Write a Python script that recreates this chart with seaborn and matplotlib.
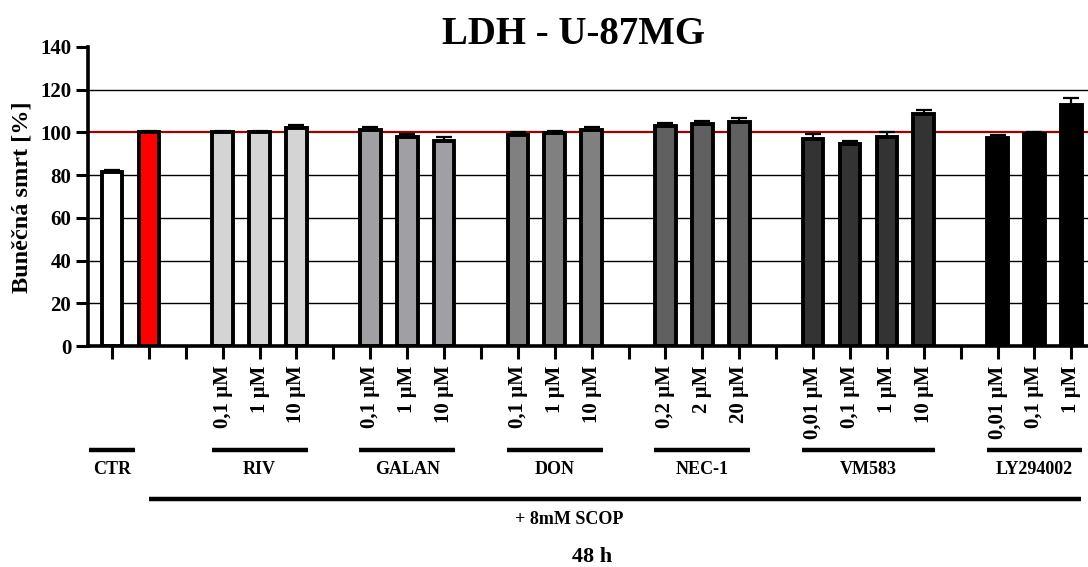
import numpy as np
import pandas as pd
import matplotlib
matplotlib.use("Agg")
import matplotlib.pyplot as plt
import matplotlib.transforms as mtransforms
import seaborn as sns

# ------------------------------------------
# data
# ------------------------------------------
groups = ["CTR", "SCOP", "RIV", "GALAN", "DON", "NEC-1", "VM583", "LY294002"]

ctr_conc = [""]
ctr_val = [81.5]
ctr_err = [1.0]

scop_conc = [""]
scop_val = [100.0]
scop_err = [0.8]

riv_conc = ["0,1 µM", "1 µM", "10 µM"]
riv_val = [100.0, 100.0, 102.0]
riv_err = [0.8, 0.6, 1.5]

galan_conc = ["0,1 µM", "1 µM", "10 µM"]
galan_val = [101.2, 97.8, 95.8]
galan_err = [1.5, 1.5, 2.0]

don_conc = ["0,1 µM", "1 µM", "10 µM"]
don_val = [98.8, 99.5, 101.0]
don_err = [1.5, 1.2, 1.5]

nec_conc = ["0,2 µM", "2 µM", "20 µM"]
nec_val = [103.0, 104.0, 105.0]
nec_err = [1.3, 1.5, 1.6]

vm_conc = ["0,01 µM", "0,1 µM", "1 µM", "10 µM"]
vm_val = [97.0, 94.8, 98.0, 108.5]
vm_err = [2.3, 1.2, 2.0, 2.0]

ly_conc = ["0,01 µM", "0,1 µM", "1 µM"]
ly_val = [97.3, 99.3, 113.0]
ly_err = [1.6, 1.0, 3.2]

yticks = [0, 20, 40, 60, 80, 100, 120, 140]

# ------------------------------------------
# layout / styling
# ------------------------------------------
colors = {"CTR": "#ffffff", "SCOP": "#ff0000", "RIV": "#d4d4d4", "GALAN": "#a0a0a4",
          "DON": "#808080", "NEC-1": "#606060", "VM583": "#333333", "LY294002": "#000000"}
gap_before = [0, 0, 1, 1, 1, 1, 1, 1]

concs = [ctr_conc, scop_conc, riv_conc, galan_conc, don_conc, nec_conc, vm_conc, ly_conc]
vals = [ctr_val, scop_val, riv_val, galan_val, don_val, nec_val, vm_val, ly_val]
errs = [ctr_err, scop_err, riv_err, galan_err, don_err, nec_err, vm_err, ly_err]

rows = []
group_pos = {}
p = -1
for g, c, v, e, gap in zip(groups, concs, vals, errs, gap_before):
    p += gap
    group_pos[g] = []
    for ci, vi, ei in zip(c, v, e):
        p += 1
        rows.append({"pos": p, "value": vi, "err": ei, "group": g, "conc": ci})
        group_pos[g].append(p)
df = pd.DataFrame(rows)
last_pos = p

FONT = "Liberation Serif"
plt.rcParams["font.family"] = [FONT, "DejaVu Serif"]
plt.rcParams["font.weight"] = "bold"

fig = plt.figure(figsize=(10.88, 5.67), dpi=100)
ax = fig.add_axes([88 / 1088, 221 / 567, 1000 / 1088, 299 / 567])

# grid lines + red 100 % reference line (behind bars)
for v in yticks[1:-1]:
    if v == 100:
        ax.axhline(v, color="#a00000", lw=1.6, zorder=0.6)
    else:
        ax.axhline(v, color="black", lw=1.0, zorder=0.5)

sns.barplot(data=df, x="pos", y="value", hue="group", palette=colors,
            native_scale=True, width=0.56, dodge=False, saturation=1,
            edgecolor="black", linewidth=2.8, errorbar=None, legend=False, ax=ax)

# upper error bars only (GraphPad style)
ax.errorbar(df["pos"], df["value"], yerr=[np.zeros(len(df)), df["err"]],
            fmt="none", ecolor="black", elinewidth=1.6, capsize=6, capthick=1.6,
            zorder=3)

ax.set_xlim(-0.65, 26.45)
ax.set_ylim(0, 140)
ax.set_yticks(yticks)
ax.set_yticklabels([str(t) for t in yticks], fontsize=15, fontweight="bold")

slots = list(range(0, last_pos + 1))
lab_map = dict(zip(df["pos"], df["conc"]))
ax.set_xticks(slots)
ax.set_xticklabels([lab_map.get(s, "") for s in slots], rotation=90,
                   fontsize=15, fontweight="bold", va="top")
ax.set_xlabel("")
ax.set_ylabel("")

for s in ["top", "right"]:
    ax.spines[s].set_visible(False)
for s in ["left", "bottom"]:
    ax.spines[s].set_linewidth(2.6)
ax.tick_params(axis="x", length=9, width=2.2, pad=5)
ax.tick_params(axis="y", length=9, width=2.2, pad=3)

# group lines and labels under the axis
trans = mtransforms.blended_transform_factory(ax.transData, fig.transFigure)
y_line = 1 - 450 / 567
y_lab = 1 - 469 / 567
for g in groups:
    if g == "SCOP":
        continue
    ps = group_pos[g]
    if len(ps) == 1:
        x0, x1 = ps[0] - 0.62, ps[0] + 0.62
    else:
        x0, x1 = ps[0] - 0.3, ps[-1] + 0.3
    ax.plot([x0, x1], [y_line, y_line], color="black", lw=3.2,
            transform=trans, clip_on=False, solid_capstyle="butt")
    ax.text(np.mean(ps), y_lab, g, transform=trans, ha="center", va="center",
            fontsize=13, fontweight="bold")

y_scop = 1 - 499 / 567
ax.plot([group_pos["SCOP"][0], last_pos + 0.25], [y_scop, y_scop], color="black",
        lw=3.2, transform=trans, clip_on=False, solid_capstyle="butt")
fig.text(569 / 1088, 1 - 520 / 567, "+ 8mM SCOP", ha="center", va="center",
         fontsize=13, fontweight="bold")
fig.text(592 / 1088, 1 - 557 / 567, "48 h", ha="center", va="center",
         fontsize=16, fontweight="bold")

fig.text(574 / 1088, 1 - 34 / 567, "LDH - U-87MG", ha="center", va="center",
         fontsize=28, fontweight="bold")
fig.text(22 / 1088, 1 - 197 / 567, "Buněčná smrt [%]", rotation=90,
         ha="center", va="center", fontsize=17.5, fontweight="bold")

fig.savefig("out.png", dpi=100)
